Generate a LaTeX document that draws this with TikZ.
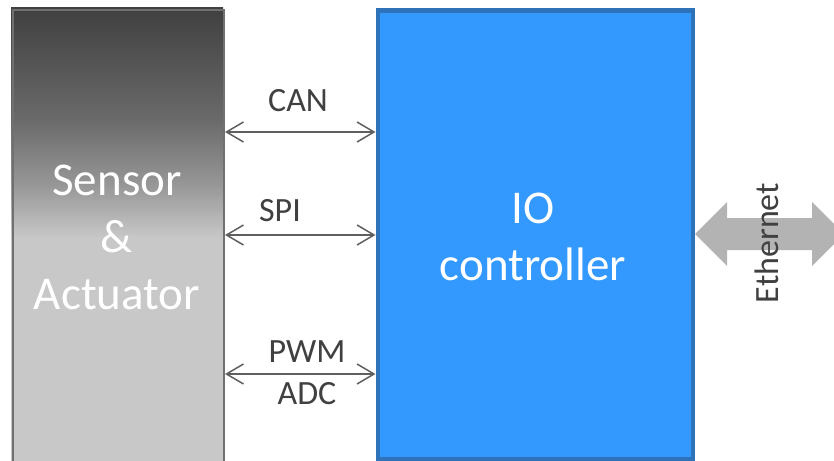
\documentclass[tikz,border=0pt]{standalone}
\usepackage{fontspec}
\setmainfont{Carlito}
\usetikzlibrary{arrows.meta}

\definecolor{labelgray}{HTML}{404040}
\definecolor{linkgray}{HTML}{5F5F5F}
\definecolor{ctrlblue}{HTML}{3399FF}
\definecolor{ctrledge}{HTML}{2E72BA}
\definecolor{devedge}{HTML}{707070}
\definecolor{ethgray}{HTML}{B3B3B3}
\definecolor{gA}{HTML}{404040}
\definecolor{gB}{HTML}{6A6A6A}
\definecolor{gC}{HTML}{979797}
\definecolor{gD}{HTML}{C8C8C8}

\tikzset{
  box/.style={rectangle, inner sep=0pt, anchor=north west},
  boxtext/.style={align=center, font=\fontsize{47}{57}\selectfont, text=white},
  buslabel/.style={font=\fontsize{34}{40}\selectfont, text=labelgray, inner sep=0pt},
  bus/.style={draw=linkgray, line width=1.5pt,
    {Straight Barb[length=17pt,width=20pt,line width=1.5pt]}-{Straight Barb[length=17pt,width=20pt,line width=1.5pt]}},
}

\begin{document}
\begin{tikzpicture}[x=1pt,y=-1pt]
\useasboundingbox (0,0) rectangle (834,460);

% sensor / actuator block: dark-to-light gray body
\fill[top color=gA, bottom color=gB, draw=none] (11,8) rectangle (223,120);
\fill[top color=gB, bottom color=gC, draw=none] (11,120) rectangle (223,185);
\fill[top color=gC, bottom color=gD, draw=none] (11,185) rectangle (223,238);
\fill[gD] (11,238) rectangle (223,475);
\node[box, draw=devedge, line width=2pt, minimum width=211pt, minimum height=466pt] (sa) at (12,9) {};
\node[boxtext] (satext) at (117,237) {Sensor\\\&\\Actuator};

% IO controller block
\node[box, fill=ctrlblue, draw=ctrledge, line width=4.5pt, minimum width=315pt, minimum height=448pt] (io) at (375.5,8.5) {};
\node[boxtext] (iotext) at (533,237) {IO\\controller};

% bus links between the blocks
\coordinate (canL) at (sa.east |- 0,132);
\coordinate (canR) at (io.west |- 0,132);
\coordinate (spiL) at (sa.east |- 0,235);
\coordinate (spiR) at (io.west |- 0,235);
\coordinate (pwmL) at (sa.east |- 0,374);
\coordinate (pwmR) at (io.west |- 0,374);
\draw[bus] (canL) -- (canR);
\draw[bus] (spiL) -- (spiR);
\draw[bus] (pwmL) -- (pwmR);
\node[buslabel] (can) at (298,101) {CAN};
\node[buslabel] (spi) at (280,211) {SPI};
\node[buslabel] (pwm) at (307,352) {PWM};
\node[buslabel] (adc) at (307,394) {ADC};

% Ethernet double arrow leaving the controller
\coordinate (eth) at (io.east |- 0,234);
\fill[ethgray] (eth) -- ++(32,-32) -- ++(0,16) -- ++(85,0) -- ++(0,-16)
  -- ++(32,32) -- ++(-32,32) -- ++(0,-16) -- ++(-85,0) -- ++(0,16) -- cycle;
\node[buslabel, rotate=90] (ethtext) at (767,243) {Ethernet};
\end{tikzpicture}
\end{document}
